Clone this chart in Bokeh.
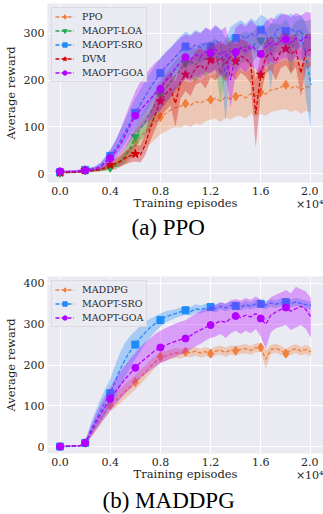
from bokeh.plotting import figure
from bokeh.models import ColumnDataSource, Range1d, FixedTicker, Legend, LegendItem, Title
from bokeh.layouts import column
from bokeh.embed import file_html
from bokeh.resources import INLINE

# ---------------- data ----------------
episodes = [400 * i for i in range(51)]  # 0 .. 20000 training episodes
marker_idx = list(range(0, 46, 5))        # markers every 2000 episodes (0 .. 18000)

x_ticks = [0, 4000, 8000, 12000, 16000, 20000]
x_tick_labels = ["0.0", "0.4", "0.8", "1.2", "1.6", "2.0"]
x_offset_text = "\u00d710\u2074"
y_ticks_a = [0, 100, 200, 300]
y_ticks_b = [0, 100, 200, 300, 400]

# (a) PPO
ppo_mean = [2, 3, 3, 4, 5, 7, 8, 9, 10, 12, 14, 19, 27, 38, 52, 68, 78, 90, 99, 111, 121, 128, 136, 141, 144, 150,
            146, 154, 151, 158, 158, 161, 155, 164, 160, 165, 168, 162, 171, 166, 174, 170, 179, 181, 185, 190, 183,
            188, 179, 186, 184]
ppo_lo = [0, 1, 1, 2, 2, 4, 4, 5, 5, 6, 7, 9, 14, 20, 30, 42, 50, 58, 64, 74, 84, 90, 96, 100, 98, 104, 100, 108, 104,
          112, 115, 118, 110, 120, 116, 122, 124, 118, 127, 122, 128, 124, 132, 134, 136, 138, 132, 136, 128, 134, 130]
ppo_hi = [4, 5, 5, 6, 8, 10, 12, 13, 15, 18, 22, 30, 42, 58, 76, 95, 108, 122, 134, 148, 160, 170, 180, 186, 192, 198,
          194, 204, 200, 208, 210, 214, 206, 218, 212, 218, 222, 216, 226, 220, 228, 224, 234, 236, 240, 244, 236,
          242, 232, 240, 238]

loa_mean = [2, 2, 3, 3, 4, 7, 6, 7, 8, 10, 13, 17, 25, 38, 56, 79, 96, 112, 130, 150, 168, 182, 196, 210, 222, 236,
            240, 232, 248, 244, 252, 258, 214, 255, 262, 256, 268, 272, 266, 280, 285, 276, 290, 292, 286, 300, 262,
            296, 302, 294, 298]
loa_lo = [0, 1, 1, 1, 2, 4, 3, 4, 5, 6, 8, 10, 15, 24, 38, 56, 70, 84, 100, 118, 134, 148, 162, 176, 188, 202, 206,
          196, 214, 208, 218, 224, 150, 220, 228, 220, 236, 240, 232, 248, 252, 240, 258, 260, 252, 268, 210, 262,
          270, 260, 264]
loa_hi = [4, 4, 5, 5, 6, 10, 9, 10, 12, 14, 19, 25, 36, 52, 74, 100, 120, 138, 158, 180, 200, 214, 228, 242, 254, 268,
          272, 266, 280, 278, 284, 290, 270, 288, 294, 290, 300, 304, 298, 310, 316, 308, 320, 322, 318, 330, 310,
          326, 332, 326, 330]

sro_mean = [3, 3, 4, 4, 5, 8, 9, 11, 16, 26, 38, 52, 70, 90, 110, 130, 148, 166, 184, 200, 215, 228, 238, 250, 262,
            272, 266, 276, 270, 280, 272, 284, 278, 205, 282, 290, 296, 288, 300, 294, 308, 300, 262, 306, 312, 305,
            310, 302, 308, 250, 190]
sro_lo = [1, 1, 2, 2, 3, 5, 6, 7, 10, 17, 26, 36, 50, 66, 82, 100, 116, 132, 150, 166, 180, 194, 204, 216, 228, 238,
          232, 242, 236, 246, 238, 250, 240, 110, 246, 256, 262, 252, 266, 258, 274, 262, 180, 270, 278, 270, 276,
          266, 272, 160, 95]
sro_hi = [5, 5, 6, 7, 8, 11, 13, 16, 23, 36, 52, 70, 92, 116, 140, 162, 180, 198, 216, 232, 248, 260, 270, 282, 294,
          304, 298, 308, 302, 312, 304, 316, 310, 290, 314, 322, 328, 320, 332, 326, 340, 334, 320, 338, 344, 338,
          342, 336, 340, 320, 290]

dvm_mean = [2, 2, 3, 3, 4, 7, 6, 7, 9, 13, 19, 22, 26, 33, 38, 42, 40, 62, 98, 128, 155, 170, 182, 150, 196, 212,
            205, 226, 232, 222, 243, 238, 248, 236, 250, 240, 252, 246, 234, 128, 212, 250, 258, 240, 262, 267, 255,
            264, 215, 262, 265]
dvm_lo = [0, 1, 1, 1, 2, 4, 4, 4, 5, 8, 12, 14, 16, 20, 24, 26, 24, 40, 70, 96, 120, 134, 146, 100, 160, 176, 166,
          190, 196, 182, 206, 200, 212, 196, 214, 200, 216, 208, 192, 55, 170, 214, 222, 200, 226, 232, 214, 228,
          165, 226, 230]
dvm_hi = [4, 4, 5, 5, 6, 10, 9, 10, 13, 19, 27, 32, 38, 48, 56, 62, 60, 88, 128, 160, 190, 206, 218, 198, 232, 248,
          242, 262, 268, 260, 280, 276, 284, 274, 286, 278, 288, 284, 274, 200, 254, 286, 294, 280, 298, 302, 294,
          300, 262, 298, 300]

goa_mean = [5, 4, 5, 5, 6, 7, 8, 10, 15, 23, 33, 46, 62, 82, 104, 124, 136, 148, 160, 172, 181, 198, 210, 226, 238,
            249, 244, 254, 250, 262, 258, 266, 254, 262, 200, 260, 270, 262, 274, 266, 256, 272, 280, 276, 284, 287,
            280, 290, 284, 292, 290]
goa_lo = [2, 2, 2, 3, 3, 4, 5, 6, 9, 14, 20, 28, 40, 54, 70, 86, 96, 106, 116, 128, 136, 152, 164, 180, 192, 204,
          198, 210, 204, 218, 214, 222, 206, 218, 140, 214, 226, 216, 232, 222, 208, 230, 240, 234, 244, 248, 238,
          250, 242, 252, 250]
goa_hi = [8, 7, 8, 8, 10, 11, 12, 15, 22, 34, 50, 70, 94, 122, 150, 176, 196, 212, 226, 238, 246, 258, 268, 280,
          290, 298, 294, 304, 300, 312, 308, 318, 306, 314, 270, 312, 322, 314, 328, 318, 310, 326, 334, 330, 340,
          342, 334, 344, 338, 346, 344]

# (b) MADDPG
maddpg_mean = [0, 1, 1, 2, 2, 9, 28, 48, 66, 85, 102, 112, 124, 136, 146, 158, 170, 182, 196, 208, 220, 222, 226,
               230, 228, 232, 230, 234, 229, 233, 228, 234, 236, 231, 237, 235, 238, 240, 236, 242, 243, 214, 238,
               241, 236, 228, 236, 240, 234, 238, 232]
maddpg_lo = [-2, -1, -1, 0, 0, 6, 20, 36, 52, 70, 86, 96, 106, 118, 128, 140, 152, 166, 180, 194, 206, 210, 214, 218,
             216, 221, 219, 223, 218, 222, 217, 223, 225, 220, 226, 224, 227, 229, 225, 231, 232, 192, 227, 230, 225,
             217, 225, 229, 223, 227, 221]
maddpg_hi = [2, 3, 3, 4, 4, 12, 36, 60, 80, 100, 118, 128, 142, 154, 164, 176, 188, 198, 212, 222, 234, 234, 238,
             242, 240, 243, 241, 245, 240, 244, 239, 245, 247, 242, 248, 246, 249, 251, 247, 253, 254, 236, 249, 252,
             247, 239, 247, 251, 245, 249, 243]

sro_b_mean = [0, 0, 1, 1, 2, 9, 36, 62, 86, 110, 131, 160, 190, 214, 234, 250, 266, 280, 292, 302, 310, 318, 322,
              326, 330, 334, 331, 338, 335, 340, 342, 338, 344, 340, 346, 345, 342, 348, 344, 350, 350, 346, 352, 349,
              353, 354, 350, 355, 351, 348, 346]
sro_b_lo = [-2, -2, -1, -1, 0, 5, 22, 42, 60, 80, 100, 120, 146, 172, 194, 214, 234, 252, 268, 282, 294, 304, 310,
            315, 319, 324, 321, 328, 326, 331, 333, 329, 336, 331, 337, 337, 333, 339, 336, 341, 341, 337, 343, 340,
            344, 345, 341, 346, 342, 339, 337]
sro_b_hi = [2, 2, 3, 3, 4, 13, 52, 84, 114, 142, 166, 200, 232, 256, 272, 284, 296, 306, 314, 320, 326, 332, 334,
            337, 341, 344, 342, 349, 346, 350, 352, 348, 354, 350, 356, 355, 352, 358, 354, 360, 360, 356, 362, 359,
            363, 364, 360, 365, 361, 358, 356]

goa_b_mean = [0, 1, 1, 2, 2, 9, 32, 56, 78, 98, 117, 134, 150, 166, 180, 193, 206, 216, 226, 236, 243, 248, 254,
              258, 262, 265, 272, 280, 286, 292, 298, 302, 308, 304, 314, 320, 316, 322, 318, 326, 314, 300, 322, 330,
              336, 341, 332, 338, 344, 336, 318]
goa_b_lo = [-2, -1, -1, 0, 0, 5, 20, 38, 56, 72, 88, 102, 116, 130, 142, 156, 168, 178, 188, 196, 204, 210, 216, 220,
            226, 230, 238, 246, 252, 260, 266, 270, 276, 266, 278, 284, 276, 284, 278, 288, 270, 240, 280, 290, 294,
            298, 286, 292, 298, 288, 266]
goa_b_hi = [2, 3, 3, 4, 4, 13, 46, 76, 102, 126, 146, 166, 184, 200, 216, 230, 244, 256, 266, 276, 284, 290, 296,
            302, 306, 310, 318, 326, 332, 338, 344, 348, 354, 350, 358, 362, 358, 364, 360, 368, 360, 352, 366, 372,
            378, 384, 376, 392, 386, 380, 364]

# ---------------- styling ----------------
FONT = "DejaVu Serif"
BG = "#EAEAF2"
TXT = "#262626"
ORANGE, GREEN, BLUE, RED, PURPLE = "#F0803C", "#1FAA4E", "#1E8CFA", "#D40000", "#B300FF"

series_a = [
    ("PPO", ORANGE, "diamond", 9, ppo_mean, ppo_lo, ppo_hi),
    ("MAOPT-LOA", GREEN, "inverted_triangle", 8, loa_mean, loa_lo, loa_hi),
    ("MAOPT-SRO", BLUE, "square", 7, sro_mean, sro_lo, sro_hi),
    ("DVM", RED, "star", 9, dvm_mean, dvm_lo, dvm_hi),
    ("MAOPT-GOA", PURPLE, "circle", 7, goa_mean, goa_lo, goa_hi),
]
series_b = [
    ("MADDPG", ORANGE, "diamond", 9, maddpg_mean, maddpg_lo, maddpg_hi),
    ("MAOPT-SRO", BLUE, "square", 7, sro_b_mean, sro_b_lo, sro_b_hi),
    ("MAOPT-GOA", PURPLE, "circle", 7, goa_b_mean, goa_b_lo, goa_b_hi),
]


def panel(series, y_start, y_end, yticks, caption, cap_offset, cap_standoff, height, top, bottom):
    p = figure(width=323, height=height, output_backend="svg", toolbar_location=None,
               x_range=Range1d(-1000, 21000), y_range=Range1d(y_start, y_end),
               min_border_left=44, min_border_right=0, min_border_top=top, min_border_bottom=bottom,
               background_fill_color=BG, border_fill_color="white", outline_line_color=None)
    labels = list(x_tick_labels)
    labels[-1] = labels[-1] + "\n" + x_offset_text
    p.xaxis.ticker = FixedTicker(ticks=x_ticks)
    p.xaxis.major_label_overrides = {t: l for t, l in zip(x_ticks, labels)}
    p.yaxis.ticker = FixedTicker(ticks=yticks)
    p.xaxis.axis_label = "Training episodes"
    p.yaxis.axis_label = "Average reward"
    for ax in (p.xaxis[0], p.yaxis[0]):
        ax.axis_line_color = None
        ax.major_tick_line_color = None
        ax.minor_tick_line_color = None
        ax.major_tick_out = 0
        ax.major_tick_in = 0
        ax.major_label_text_font = FONT
        ax.major_label_text_font_size = "11px"
        ax.major_label_text_color = TXT
        ax.axis_label_text_font = FONT
        ax.axis_label_text_font_size = "11.5px"
        ax.axis_label_text_font_style = "normal"
        ax.axis_label_text_color = TXT
    p.xaxis.major_label_text_line_height = 1.0
    p.xaxis.major_label_standoff = 2
    p.xaxis.axis_label_standoff = -18
    p.yaxis.major_label_standoff = 3
    p.yaxis.axis_label_standoff = 3
    p.grid.grid_line_color = "white"
    p.grid.grid_line_width = 1.1

    items = []
    for name, color, marker, size, mean, lo, hi in series:
        src = ColumnDataSource(dict(x=episodes, y=mean, lo=lo, hi=hi))
        msrc = ColumnDataSource(dict(x=[episodes[i] for i in marker_idx], y=[mean[i] for i in marker_idx]))
        p.varea(x="x", y1="lo", y2="hi", source=src, fill_color=color, fill_alpha=0.33)
        ln = p.line("x", "y", source=src, line_color=color, line_width=1.3, line_dash="4 2")
        sc = p.scatter("x", "y", source=msrc, marker=marker, size=size, fill_color=color, line_color=color)
        items.append(LegendItem(label=name, renderers=[ln, sc]))

    leg = Legend(items=items, location="top_left", margin=4, padding=3, spacing=3,
                 label_height=11, glyph_height=11, glyph_width=19, label_standoff=8,
                 label_text_font=FONT, label_text_font_size="9.5px", label_text_color=TXT,
                 background_fill_color=BG, background_fill_alpha=0.85,
                 border_line_color="#CCCCCC", border_line_width=1)
    p.add_layout(leg)

    p.add_layout(Title(text=caption, align="left", offset=cap_offset, standoff=cap_standoff,
                       text_font="Liberation Serif", text_font_size="23px", text_font_style="normal",
                       text_color="black"), "below")
    return p


p1 = panel(series_a, -19, 364, y_ticks_a, "(a) PPO", 84, 0, 257, 3, 75)
p2 = panel(series_b, -17, 417, y_ticks_b, "(b) MADDPG", 55, 4, 257, 19, 60)

layout = column(p1, p2, spacing=0)
open("out.html", "w").write(file_html(layout, INLINE))
